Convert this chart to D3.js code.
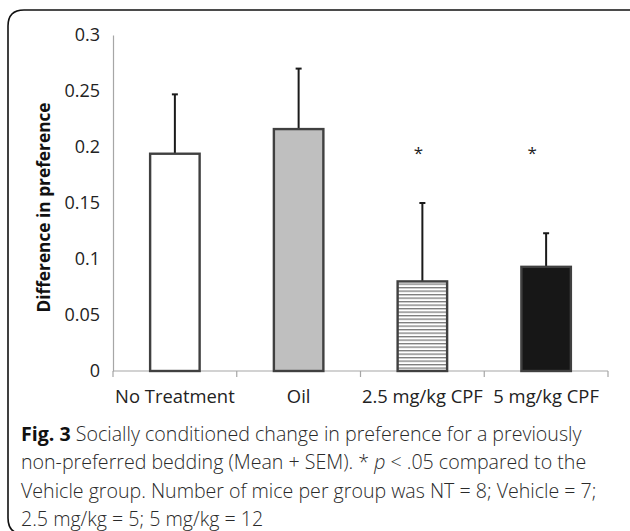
<!DOCTYPE html>
<html>
  <head>
    <meta charset="utf-8">
    <title></title>
    <style>
      body { margin: 0; background: #fff; }
      svg { display: block; }
    </style>
  </head>
  <body>
    <script src="https://cdn.jsdelivr.net/npm/d3@7"></script>
    <script>
      var
        width = 630, //svg宽
        height = 531, //svg高
        margin = { top: 35, left: 113 };

      // 数据
      var groups = ['No Treatment', 'Oil', '2.5 mg/kg CPF', '5 mg/kg CPF'];
      var means = [0.194, 0.216, 0.080, 0.093];
      var sems = [0.053, 0.054, 0.070, 0.030];
      var marked = [false, false, true, true]; // * p < .05
      var markLevel = 0.195;
      var yTicks = [0, 0.05, 0.1, 0.15, 0.2, 0.25, 0.3];
      var captionLines = [
        ['Fig. 3', ' Socially conditioned change in preference for a previously'],
        ['', 'non-preferred bedding (Mean + SEM). * ', 'p', ' < .05 compared to the'],
        ['', 'Vehicle group. Number of mice per group was NT = 8; Vehicle = 7;'],
        ['', '2.5 mg/kg = 5; 5 mg/kg = 12']
      ];

      var svg = d3.select('body')
        .append('svg')
        .attr('width', width)
        .attr('height', height);

      // 外框(底边在图片外)
      svg.append('path')
        .attr('d', 'M' + (width + 20) + ',10 H24 Q8,10 8,26 V518 Q8,534 24,534 H' + (width + 20))
        .attr('fill', 'none')
        .attr('stroke', '#111')
        .attr('stroke-width', 1.6);

      // 横线图案
      var defs = svg.append('defs');
      var pat = defs.append('pattern')
        .attr('id', 'hstripe')
        .attr('patternUnits', 'userSpaceOnUse')
        .attr('width', 6)
        .attr('height', 3.5);
      pat.append('rect').attr('width', 6).attr('height', 3.5).attr('fill', '#fff');
      pat.append('rect').attr('y', 0).attr('width', 6).attr('height', 1.3).attr('fill', '#7a7a7a');

      var fills = ['#ffffff', '#bfbfbf', 'url(#hstripe)', '#171717'];

      var x0 = margin.left, y0 = 371, axisW = 495;

      var x = d3.scaleBand()
        .domain(groups)
        .range([x0, x0 + axisW])
        .paddingInner(0.6)
        .paddingOuter(0.3);

      var y = d3.scaleLinear()
        .domain([0, 0.3])
        .range([y0, margin.top]);

      // y轴
      var yAxis = svg.append('g')
        .attr('transform', 'translate(' + x0 + ',0)')
        .call(d3.axisLeft(y).tickValues(yTicks).tickSize(0).tickPadding(13)
          .tickFormat(function(d) { return d3.format('')(+d.toFixed(2)); }));
      yAxis.select('.domain').attr('stroke', '#a6a6a6').attr('stroke-width', 1.2);
      yAxis.selectAll('text')
        .attr('font-family', '"Open Sans", sans-serif')
        .attr('font-size', '18px')
        .attr('fill', '#222');

      // x轴
      var xAxis = svg.append('g')
        .attr('transform', 'translate(0,' + y0 + ')');
      xAxis.append('line')
        .attr('x1', x0).attr('x2', x0 + axisW)
        .attr('stroke', '#a6a6a6').attr('stroke-width', 1.2);
      xAxis.selectAll('.tk')
        .data(d3.range(groups.length + 1))
        .enter()
        .append('line')
        .attr('x1', function(d) { return x0 + d * axisW / groups.length; })
        .attr('x2', function(d) { return x0 + d * axisW / groups.length; })
        .attr('y1', 0).attr('y2', 6)
        .attr('stroke', '#a6a6a6').attr('stroke-width', 1.2);
      xAxis.selectAll('.lbl')
        .data(groups)
        .enter()
        .append('text')
        .attr('x', function(d) { return x(d) + x.bandwidth() / 2; })
        .attr('y', 32)
        .attr('text-anchor', 'middle')
        .attr('font-family', '"Open Sans", sans-serif')
        .attr('font-size', '18.4px')
        .attr('fill', '#222')
        .text(function(d) { return d; });

      // y轴标题
      svg.append('text')
        .attr('transform', 'translate(50,' + 207.5 + ') rotate(-90)')
        .attr('text-anchor', 'middle')
        .attr('font-family', '"Open Sans", sans-serif')
        .attr('font-weight', 'bold')
        .attr('font-size', '17.3px')
        .attr('fill', '#111')
        .text('Difference in preference');

      // 误差线
      var err = svg.append('g');
      groups.forEach(function(g, i) {
        var cx = x(g) + x.bandwidth() / 2;
        err.append('line')
          .attr('x1', cx).attr('x2', cx)
          .attr('y1', y(means[i])).attr('y2', y(means[i] + sems[i]))
          .attr('stroke', '#1a1a1a').attr('stroke-width', 2);
        err.append('line')
          .attr('x1', cx - 3).attr('x2', cx + 3)
          .attr('y1', y(means[i] + sems[i])).attr('y2', y(means[i] + sems[i]))
          .attr('stroke', '#1a1a1a').attr('stroke-width', 2);
      });

      // 柱形
      svg.selectAll('.bar')
        .data(means)
        .enter()
        .append('rect')
        .attr('x', function(d, i) { return x(groups[i]); })
        .attr('y', function(d) { return y(d); })
        .attr('width', x.bandwidth())
        .attr('height', function(d) { return y0 - y(d); })
        .attr('fill', function(d, i) { return fills[i]; })
        .attr('stroke', '#404040')
        .attr('stroke-width', 2.4);

      // 显著性标记
      svg.selectAll('.star')
        .data(groups.filter(function(g, i) { return marked[i]; }))
        .enter()
        .append('text')
        .attr('x', function(d, i) { return x(d) + x.bandwidth() / 2 - (i === 0 ? 4 : 14); })
        .attr('y', y(markLevel) + 6)
        .attr('text-anchor', 'middle')
        .attr('font-family', '"Open Sans", sans-serif')
        .attr('font-size', '17px')
        .attr('fill', '#222')
        .text('*');

      // 图注
      var cap = svg.append('g');
      captionLines.forEach(function(parts, li) {
        var t = cap.append('text')
          .attr('x', 21)
          .attr('y', 441 + li * 28.3)
          .attr('font-family', '"Open Sans", sans-serif')
          .attr('font-size', '19.6px')
          .attr('fill', '#2a2a2a');
        parts.forEach(function(p, pi) {
          if (!p) return;
          var s = t.append('tspan').text(p);
          if (pi === 0 && li === 0) s.attr('font-weight', 'bold').attr('fill', '#111');
          if (p === 'p') s.attr('font-style', 'italic');
          if (pi > 0 || li > 0) s.attr('font-weight', 300);
        });
      });
    </script>
  </body>
</html>
